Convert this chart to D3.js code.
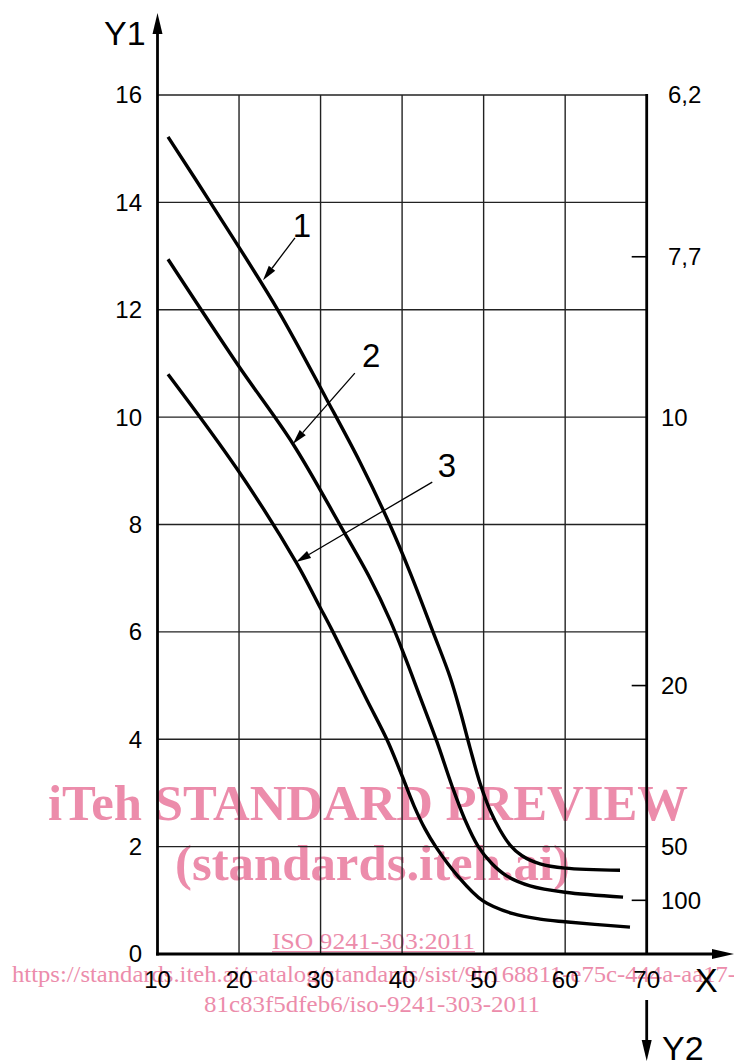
<!DOCTYPE html>
<html>
<head>
<meta charset="utf-8">
<script src="https://cdn.jsdelivr.net/npm/d3@7"></script>
<style>
  html, body { margin: 0; padding: 0; background: #fff; }
  svg { display: block; }
  text.sans { font-family: "Liberation Sans", Arial, sans-serif; }
  text.serif { font-family: "Liberation Serif", "Times New Roman", serif; }
</style>
</head>
<body>
<script>
// ---- data ----
const xTicks = [10, 20, 30, 40, 50, 60, 70];
const y1Ticks = [0, 2, 4, 6, 8, 10, 12, 14, 16];
const y2Values = [6.2, 7.7, 10, 20, 50, 100];
const y2Labels = ["6,2", "7,7", "10", "20", "50", "100"];

const curve1X = [11.29, 16.44, 24.78, 30.79, 34.84, 38.52, 40.97, 43.79, 45.88, 47.10, 48.33, 49.56, 50.78, 52.01, 53.24, 54.71, 56.92, 59.98, 66.73];
const curve1Y = [15.22, 14.01, 11.99, 10.32, 9.16, 7.99, 7.11, 6.00, 5.16, 4.54, 3.84, 3.18, 2.68, 2.31, 2.03, 1.83, 1.68, 1.60, 1.56];

const curve2X = [11.29, 19.87, 26.62, 32.39, 36.06, 38.52, 40.36, 42.20, 44.28, 46.12, 47.71, 49.31, 51.03, 52.87, 55.69, 59.98, 67.10];
const curve2Y = [12.94, 10.97, 9.50, 7.99, 7.00, 6.22, 5.53, 4.79, 3.95, 3.13, 2.50, 2.01, 1.68, 1.45, 1.27, 1.15, 1.06];

const curve3X = [11.29, 19.87, 26.99, 29.93, 31.52, 35.69, 38.15, 39.99, 41.46, 42.81, 44.16, 46.73, 49.92, 53.60, 56.91, 59.98, 67.95];
const curve3Y = [10.80, 9.01, 7.30, 6.46, 6.00, 4.73, 3.99, 3.32, 2.76, 2.33, 1.99, 1.47, 0.99, 0.75, 0.65, 0.60, 0.50];

const curveLabels = ["1", "2", "3"];
const labelTextX = [27.7, 36.2, 45.5];
const labelTextY = [13.58, 11.16, 9.1];
const leaderStartX = [26.86, 34.2, 43.7];
const leaderStartY = [13.34, 10.82, 8.79];
const leaderTipX = [22.94, 26.6, 27.0];
const leaderTipY = [12.55, 9.5, 7.3];

const watermarkLines = [
  "iTeh STANDARD PREVIEW",
  "(standards.iteh.ai)",
  "ISO 9241-303:2011",
  "https://standards.iteh.ai/catalog/standards/sist/9b168811-e75c-444a-aa17-",
  "81c83f5dfeb6/iso-9241-303-2011"
];

// ---- layout ----
const W = 734, H = 1061;
const x = d3.scaleLinear().domain([10, 70]).range([157.5, 646.7]);
const y = d3.scaleLinear().domain([0, 16]).range([954, 95]);

const svg = d3.select("body").append("svg").attr("width", W).attr("height", H);

// ---- watermark (under) ----
const pink = "#ec8cab";
const wm = svg.append("g").attr("fill", pink);
wm.append("text").attr("class", "serif").attr("x", 48).attr("y", 820).attr("font-size", 50).attr("font-weight", "bold")
  .attr("textLength", 640).attr("lengthAdjust", "spacingAndGlyphs").text(watermarkLines[0]);
wm.append("text").attr("class", "serif").attr("x", 175).attr("y", 880).attr("font-size", 50).attr("font-weight", "bold")
  .attr("textLength", 395).attr("lengthAdjust", "spacingAndGlyphs").text(watermarkLines[1]);
wm.append("text").attr("class", "serif").attr("x", 272).attr("y", 949).attr("font-size", 24)
  .attr("textLength", 203).attr("lengthAdjust", "spacingAndGlyphs").text(watermarkLines[2]);
wm.append("rect").attr("x", 272).attr("y", 951).attr("width", 203).attr("height", 1.3);
wm.append("text").attr("class", "serif").attr("x", 12).attr("y", 982).attr("font-size", 24)
  .attr("textLength", 724).attr("lengthAdjust", "spacingAndGlyphs").text(watermarkLines[3]);
wm.append("text").attr("class", "serif").attr("x", 204).attr("y", 1012).attr("font-size", 24)
  .attr("textLength", 336).attr("lengthAdjust", "spacingAndGlyphs").text(watermarkLines[4]);

// ---- grid ----
const grid = svg.append("g").attr("stroke", "#222").attr("stroke-width", 1.4);
grid.selectAll("line.v").data(xTicks.filter(d => d > 10 && d < 70)).join("line")
  .attr("x1", d => x(d)).attr("x2", d => x(d)).attr("y1", y(0)).attr("y2", y(16));
grid.selectAll("line.h").data(y1Ticks.filter(d => d > 0)).join("line")
  .attr("x1", x(10)).attr("x2", x(70)).attr("y1", d => y(d)).attr("y2", d => y(d));

// ---- axes ----
const ax = svg.append("g").attr("stroke", "#000").attr("stroke-width", 2.8);
// Y1 axis
ax.append("line").attr("x1", x(10)).attr("x2", x(10)).attr("y1", y(0) + 1.4).attr("y2", 30);
svg.append("path").attr("d", `M${x(10)},13 L${x(10) - 5},34 L${x(10) + 5},34 Z`).attr("fill", "#000");
// X axis
ax.append("line").attr("x1", x(10) - 1.4).attr("x2", 718).attr("y1", y(0)).attr("y2", y(0));
svg.append("path").attr("d", `M734,${y(0)} L712,${y(0) - 5} L712,${y(0) + 5} Z`).attr("fill", "#000");
// right (Y2) axis
ax.append("line").attr("x1", x(70)).attr("x2", x(70)).attr("y1", y(16) - 1).attr("y2", y(0));
ax.append("line").attr("x1", x(70)).attr("x2", x(70)).attr("y1", 1000).attr("y2", 1045);
svg.append("path").attr("d", `M${x(70)},1061 L${x(70) - 5},1040 L${x(70) + 5},1040 Z`).attr("fill", "#000");

// Y1 tick labels
svg.append("g").selectAll("text").data(y1Ticks).join("text").attr("class", "sans")
  .attr("x", 142).attr("y", d => y(d)).attr("dy", "0.35em").attr("text-anchor", "end")
  .attr("font-size", 24).text(d => d);
// X tick labels
svg.append("g").selectAll("text").data(xTicks).join("text").attr("class", "sans")
  .attr("x", d => x(d)).attr("y", 988).attr("text-anchor", "middle")
  .attr("font-size", 24).text(d => d);

// Y2 ticks and labels (Y2 = 100 / Y1), clamped to the Y1 range
const y2pos = v => y(Math.min(16, 100 / v));
const onGrid = v => Math.abs((100 / v) / 2 - Math.round((100 / v) / 2)) < 0.1;
svg.append("g").selectAll("line").data(y2Values.filter(v => !onGrid(v))).join("line")
  .attr("x1", x(70) - 15).attr("x2", x(70)).attr("y1", d => y2pos(d)).attr("y2", d => y2pos(d))
  .attr("stroke", "#000").attr("stroke-width", 1.6);
svg.append("g").selectAll("text").data(y2Values).join("text").attr("class", "sans")
  .attr("x", (d, i) => y2Labels[i].includes(",") ? 668 : 661)
  .attr("y", d => y2pos(d)).attr("dy", "0.35em")
  .attr("font-size", 24).text((d, i) => y2Labels[i]);

// axis titles
svg.append("text").attr("class", "sans").attr("x", 104).attr("y", 45).attr("font-size", 34).text("Y1");
svg.append("text").attr("class", "sans").attr("x", 695).attr("y", 992).attr("font-size", 34).text("X");
svg.append("text").attr("class", "sans").attr("x", 662).attr("y", 1060).attr("font-size", 34).text("Y2");

// ---- curves ----
const line = d3.line().x(d => x(d[0])).y(d => y(d[1])).curve(d3.curveCatmullRom.alpha(0.5));
const series = [
  d3.zip(curve1X, curve1Y),
  d3.zip(curve2X, curve2Y),
  d3.zip(curve3X, curve3Y)
];
svg.append("g").selectAll("path").data(series).join("path")
  .attr("d", line).attr("fill", "none").attr("stroke", "#000")
  .attr("stroke-width", 3.4).attr("stroke-linejoin", "round").attr("stroke-linecap", "butt");

// ---- callouts ----
const cg = svg.append("g");
curveLabels.forEach((lab, i) => {
  const sx = x(leaderStartX[i]), sy = y(leaderStartY[i]);
  const tx = x(leaderTipX[i]), ty = y(leaderTipY[i]);
  const ang = Math.atan2(ty - sy, tx - sx);
  const L = 15, hw = 4;
  const bx = tx - L * Math.cos(ang), by = ty - L * Math.sin(ang);
  cg.append("line").attr("x1", sx).attr("y1", sy).attr("x2", bx).attr("y2", by)
    .attr("stroke", "#000").attr("stroke-width", 1.3);
  cg.append("path").attr("d",
    `M${tx},${ty} L${bx + hw * Math.sin(ang)},${by - hw * Math.cos(ang)} L${bx - hw * Math.sin(ang)},${by + hw * Math.cos(ang)} Z`)
    .attr("fill", "#000");
  cg.append("text").attr("class", "sans").attr("x", x(labelTextX[i])).attr("y", y(labelTextY[i])).attr("dy", "0.36em")
    .attr("text-anchor", "middle").attr("font-size", 33).text(lab);
});
</script>
</body>
</html>
